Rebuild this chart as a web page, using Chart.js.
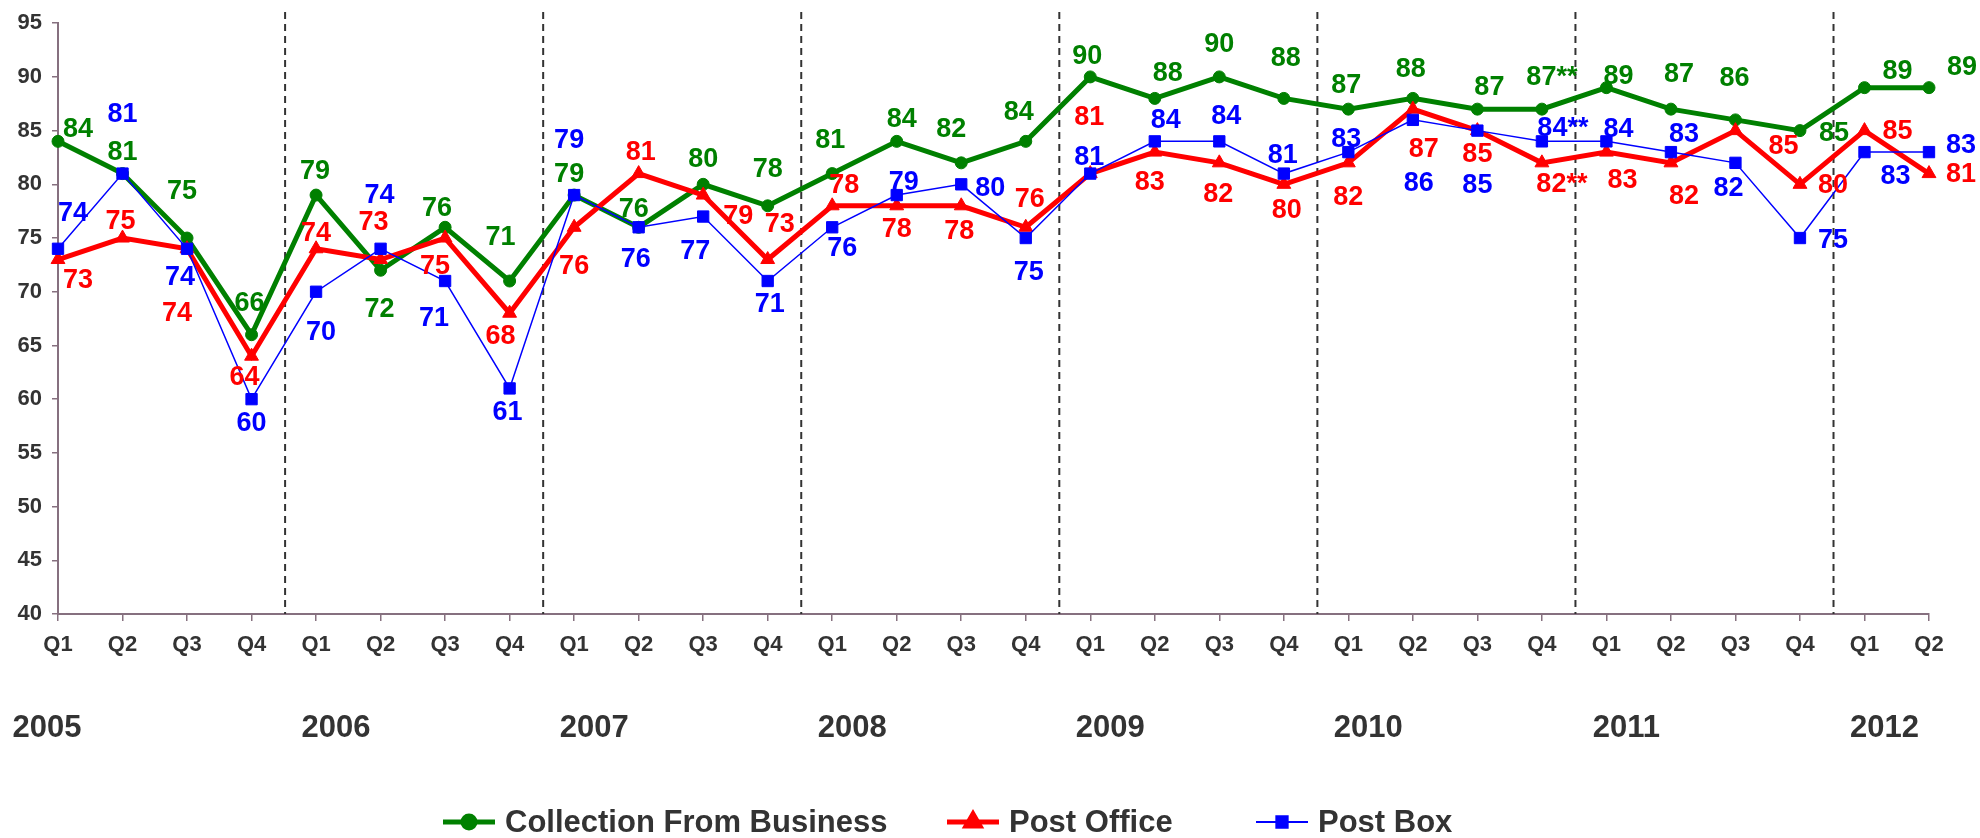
<!DOCTYPE html>
<html>
<head>
<meta charset="utf-8">
<script src="https://cdn.jsdelivr.net/npm/chart.js@4.4.0/dist/chart.umd.min.js"></script>
<style>
html,body{margin:0;padding:0;background:#fff;}
#wrap{width:1980px;height:838px;position:relative;}
</style>
</head>
<body>
<div id="wrap"><canvas id="chart"></canvas></div>
<script>
// Quarterly scores 2005 Q1 - 2012 Q2
const quarters = ['Q1','Q2','Q3','Q4','Q1','Q2','Q3','Q4','Q1','Q2','Q3','Q4','Q1','Q2','Q3','Q4',
  'Q1','Q2','Q3','Q4','Q1','Q2','Q3','Q4','Q1','Q2','Q3','Q4','Q1','Q2'];
const years = ['2005','2006','2007','2008','2009','2010','2011','2012'];
const business   = [84,81,75,66,79,72,76,71,79,76,80,78,81,84,82,84,90,88,90,88,87,88,87,87,89,87,86,85,89,89];
const postOffice = [73,75,74,64,74,73,75,68,76,81,79,73,78,78,78,76,81,83,82,80,82,87,85,82,83,82,85,80,85,81];
const postBox    = [74,81,74,60,70,74,71,61,79,76,77,71,76,79,80,75,81,84,84,81,83,86,85,84,84,83,82,75,83,83];
const starred = 23; // 2011 Q4 values carry a ** note
const yTicks = [40,45,50,55,60,65,70,75,80,85,90,95];

// label placement (px offset from the marker), kept apart from the values
const busPos = [[20,-13],[0,-22],[-5,-47],[-2,-32],[-1,-25],[-1,38],[-8,-20],[-9,-44],[-5,-22],[-5,-19],
  [0,-26],[0,-37],[-2,-34],[5,-23],[-10,-34],[-7,-30],[-3,-21],[13,-26],[0,-33],[2,-41],
  [-2,-25],[-2,-30],[12,-23],[10,-33],[12,-12],[8,-36],[-1,-42],[34,2],[33,-17],[33,-21]];
const offPos = [[20,20],[-2,-17],[-10,64],[-7,20],[0,-16],[-7,-38],[-10,28],[-9,22],[0,38],[2,-22],
  [35,20],[12,-36],[12,-21],[0,23],[-2,25],[4,-29],[-1,-57],[-5,29],[-1,31],[3,25],
  [0,34],[11,39],[0,23],[20,21],[16,27],[13,33],[48,15],[33,0],[33,0],[32,0]];
const boxPos = [[15,-36],[0,-60],[-7,28],[0,23],[5,40],[-1,-54],[-11,37],[-2,23],[-5,-56],[-3,31],
  [-8,34],[2,23],[10,20],[7,-14],[29,3],[3,34],[-1,-17],[11,-22],[7,-26],[-1,-19],
  [-2,-14],[6,63],[0,54],[21,-14],[12,-13],[13,-19],[-7,25],[33,2],[31,23],[32,-8]];

const FONT = "'Liberation Sans', Arial, sans-serif";
const TXT = '#333333', AXIS = '#86707f';
const GREEN = '#008000', RED = '#ff0000', BLUE = '#0000ff';
const legendX = [443, 947, 1256];

const decor = {
  id:'decor',
  beforeDatasetsDraw(chart){
    const {ctx, chartArea:a, scales:{x}} = chart;
    ctx.save();
    ctx.strokeStyle = '#333'; ctx.lineWidth = 2; ctx.setLineDash([7,5]);
    for (let k=1;k<years.length;k++){
      const i = k*4-1;
      const px = x.getPixelForValue(i) + 0.52*(x.getPixelForValue(i+1)-x.getPixelForValue(i));
      ctx.beginPath(); ctx.moveTo(px, 12); ctx.lineTo(px, a.bottom); ctx.stroke();
    }
    ctx.restore();
  },
  afterDatasetsDraw(chart){
    const {ctx, scales:{x}} = chart;
    ctx.save();
    ctx.textAlign='center'; ctx.textBaseline='middle';
    ctx.font = 'bold 27px '+FONT;
    const pos = [busPos, offPos, boxPos];
    chart.data.datasets.forEach((ds,d)=>{
      const meta = chart.getDatasetMeta(d);
      ctx.fillStyle = ds.borderColor;
      meta.data.forEach((pt,i)=>{
        const t = ds.data[i] + (i===starred?'**':'');
        ctx.fillText(t, pt.x + pos[d][i][0], pt.y + pos[d][i][1] + 1);
      });
    });
    // year labels
    ctx.fillStyle = TXT; ctx.font = 'bold 31px '+FONT;
    years.forEach((yr,k)=>{
      const cx = k===0 ? 47 : x.getPixelForValue(k*4) + 20;
      ctx.fillText(yr, cx, 728);
    });
    // legend: line + marker + name
    ctx.textAlign='left'; ctx.font = 'bold 31px '+FONT;
    chart.data.datasets.forEach((ds,d)=>{
      const lx = legendX[d], ly = 822;
      ctx.strokeStyle = ds.borderColor; ctx.lineWidth = d===2?2:5;
      ctx.beginPath(); ctx.moveTo(lx, ly); ctx.lineTo(lx+52, ly); ctx.stroke();
      Chart.helpers.drawPoint(ctx, {pointStyle: ds.pointStyle, radius: ds.pointRadius, borderWidth:1}, lx+26, ly);
      ctx.fillStyle = ds.borderColor; ctx.fill();
      ctx.fillStyle = TXT;
      ctx.fillText(ds.label, lx+62, ly+1);
    });
    ctx.restore();
  }
};

const ctx = document.getElementById('chart').getContext('2d');
new Chart(ctx, {
  type:'line',
  data:{
    labels: quarters,
    datasets:[
      { label:'Collection From Business', data:business, borderColor:GREEN, backgroundColor:GREEN,
        borderWidth:5, pointStyle:'circle', pointRadius:6, pointBorderWidth:1, order:2, clip:false },
      { label:'Post Office', data:postOffice, borderColor:RED, backgroundColor:RED,
        borderWidth:5, pointStyle:'triangle', pointRadius:8, pointBorderWidth:1, order:1, clip:false },
      { label:'Post Box', data:postBox, borderColor:BLUE, backgroundColor:BLUE,
        borderWidth:1.5, pointStyle:'rect', pointRadius:8, pointBorderWidth:1, order:0, clip:false }
    ]
  },
  options:{
    responsive:true, maintainAspectRatio:false, animation:false,
    layout:{ padding:{ top:19, right:51, left:0, bottom:0 } },
    plugins:{ legend:{display:false}, tooltip:{enabled:false} },
    elements:{ line:{ tension:0 } },
    scales:{
      x:{
        offset:false,
        grid:{ drawOnChartArea:false, drawTicks:true, tickLength:7, color:AXIS, lineWidth:1.5 },
        border:{ display:true, color:AXIS, width:2 },
        ticks:{ font:{family:FONT, size:22, weight:'bold'}, color:TXT, padding:11, maxRotation:0, autoSkip:false },
        afterFit(s){ s.height = 224; }
      },
      y:{
        min:40, max:95,
        afterBuildTicks(s){ s.ticks = yTicks.map(v=>({value:v})); },
        grid:{ drawOnChartArea:false, drawTicks:true, tickLength:6, color:AXIS, lineWidth:1.5 },
        border:{ display:true, color:AXIS, width:2 },
        ticks:{ font:{family:FONT, size:22, weight:'bold'}, color:TXT, padding:10 },
        afterFit(s){ s.width = 58; }
      }
    }
  },
  plugins:[decor]
});
</script>
</body>
</html>
